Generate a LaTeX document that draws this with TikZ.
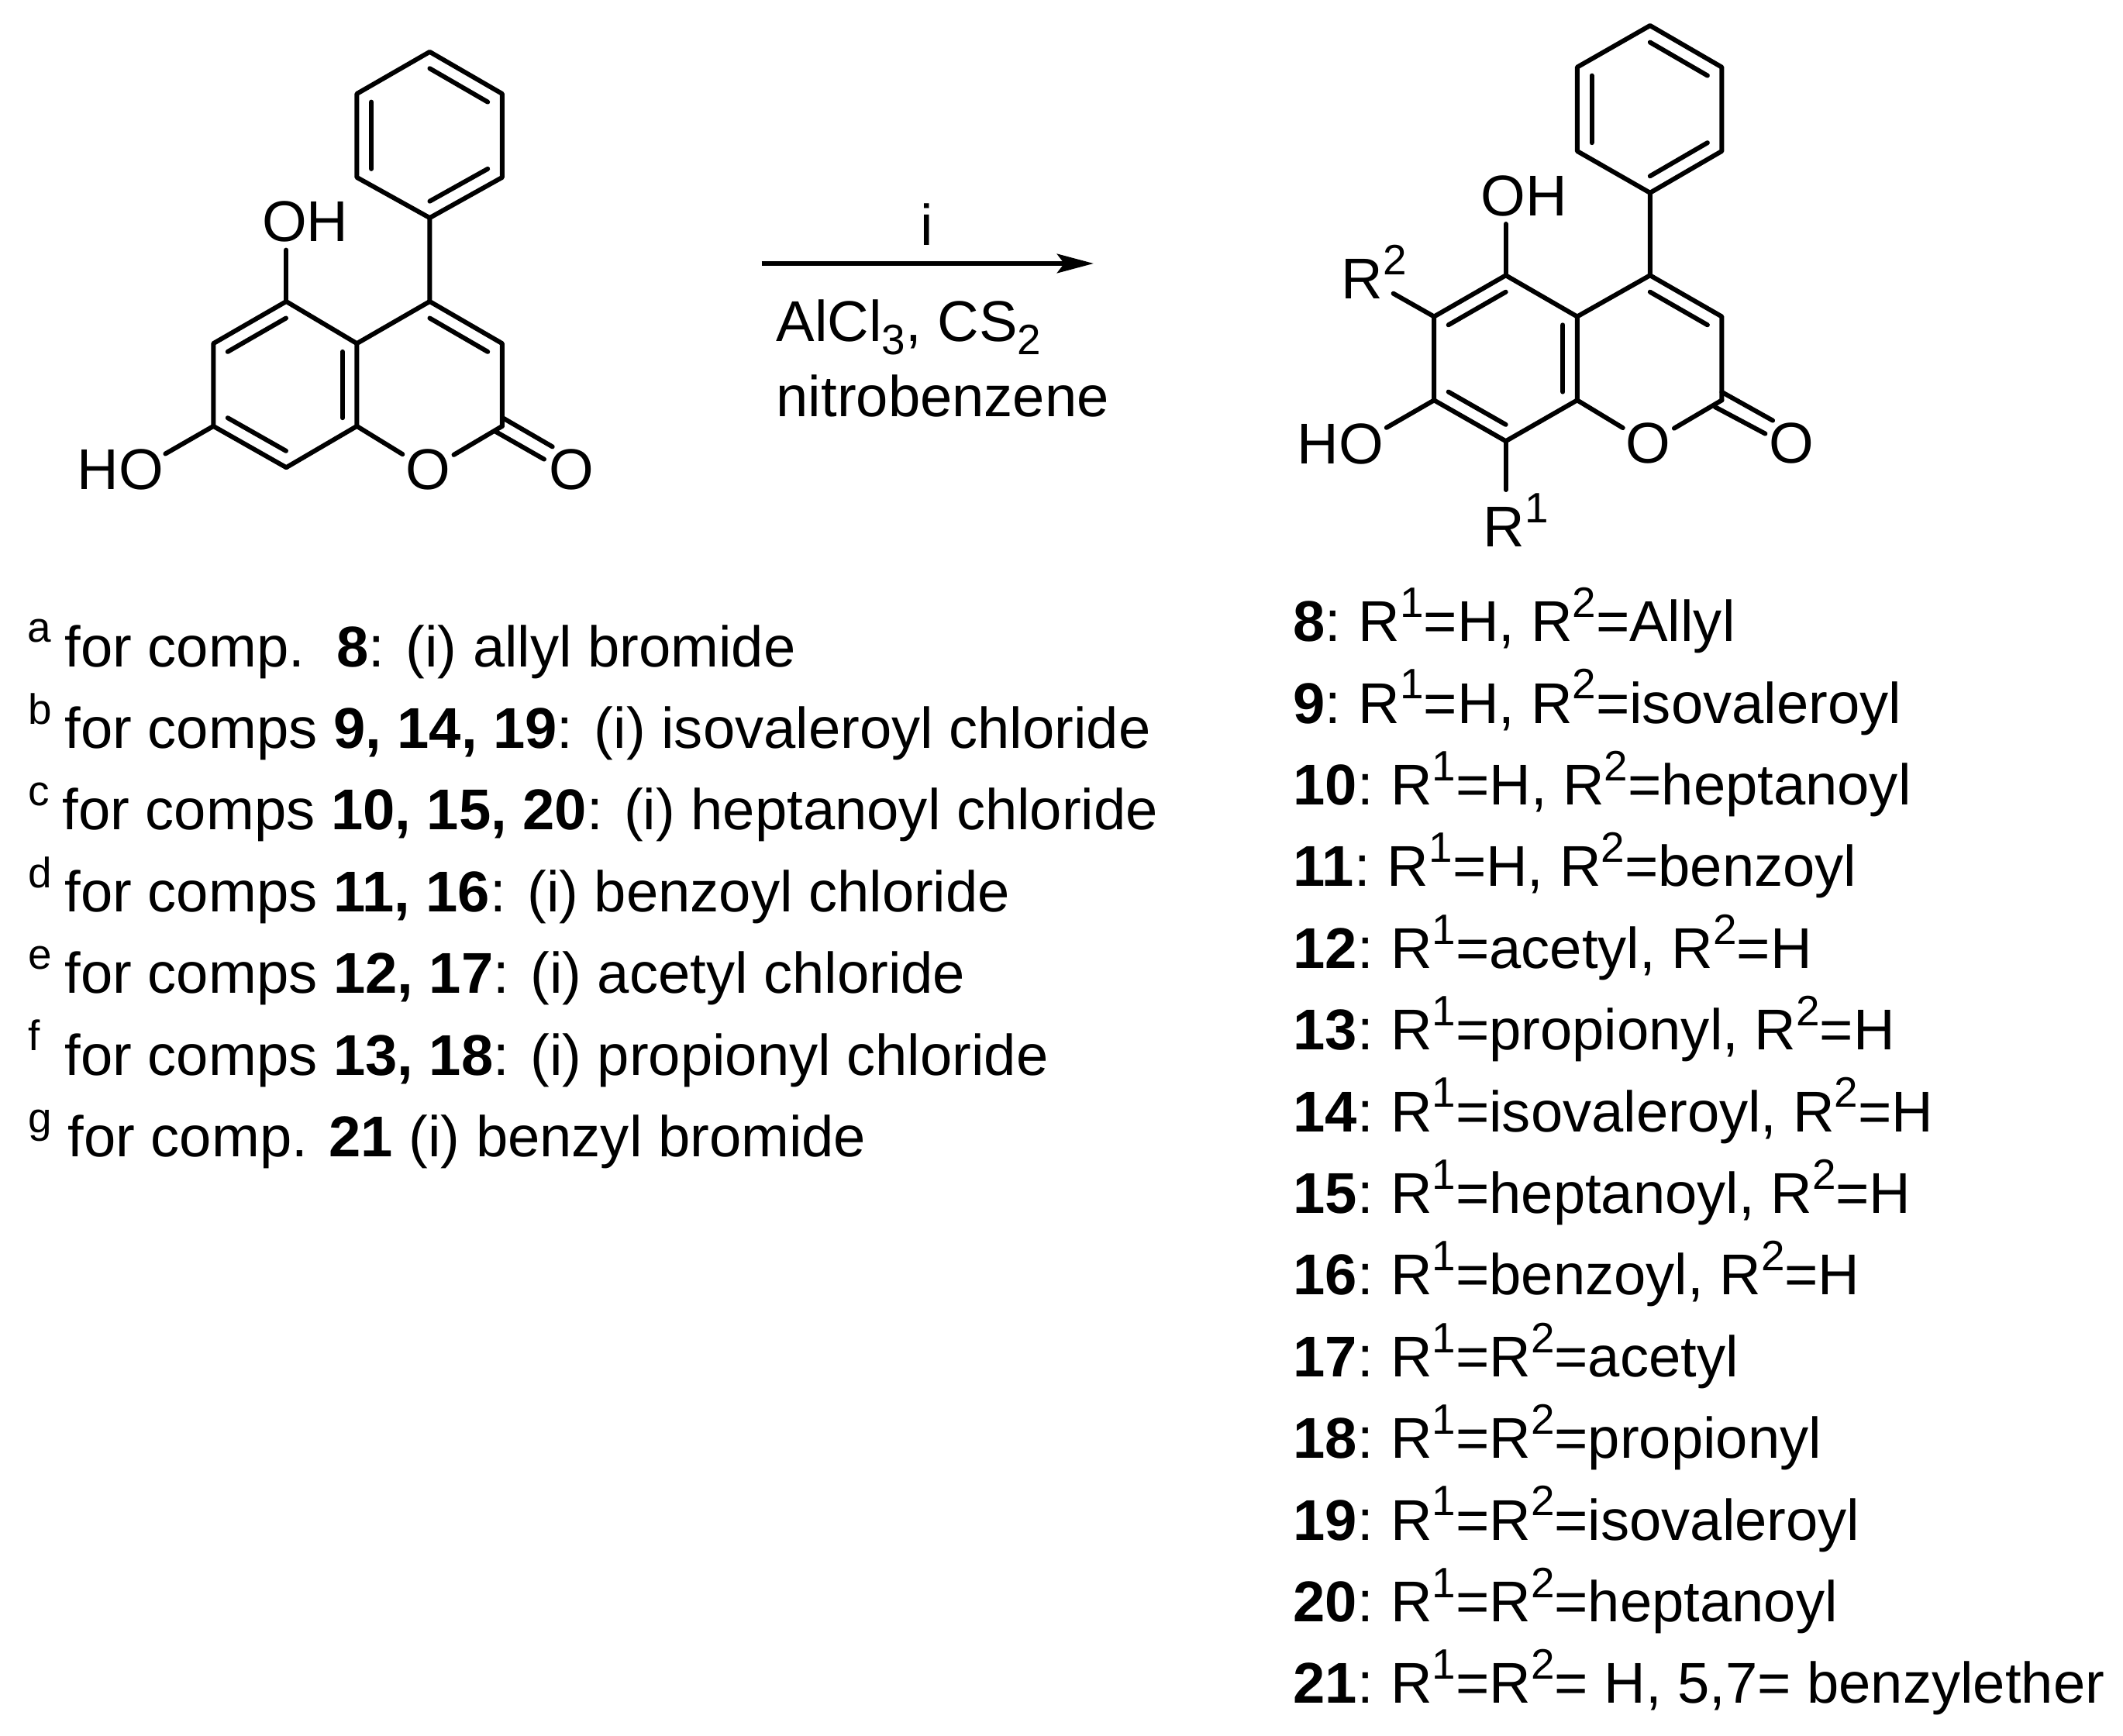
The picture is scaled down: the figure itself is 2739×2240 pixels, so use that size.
\documentclass[tikz,border=0pt]{standalone}
\usepackage{fontspec}
\setmainfont{Liberation Sans}
\usetikzlibrary{arrows.meta,calc}
\newcommand{\supnum}[1]{\raisebox{0.42em}{\fontsize{15.6}{15.6}\selectfont #1}}
\newcommand{\subnum}[1]{\raisebox{-0.22em}{\fontsize{15.6}{15.6}\selectfont #1}}
\tikzset{
  >=Stealth,
  every node/.append style={font=\fontsize{21.1}{24}\selectfont},
  bond/.style={line width=1.7pt, line cap=round, line join=round},
  atomlabel/.style={anchor=base, inner xsep=1pt, inner ysep=0pt},
  textline/.style={anchor=base west, inner sep=0pt},
  arrow/.style={-{Stealth[length=13.4pt,width=7pt,inset=2.6pt]}, line width=1.7pt}
}
\begin{document}
\begin{tikzpicture}[x=0.01cm, y=-0.01cm]
\useasboundingbox (0,0) rectangle (2739,2240);

% Starting material
\coordinate (aTop) at (554.4,66.9);
\coordinate (aUL) at (460.4,121);
\coordinate (aUR) at (647.9,121);
\coordinate (aLL) at (460.4,228.9);
\coordinate (aLR) at (647.9,228.9);
\coordinate (aBot) at (554.4,281.1);
\coordinate (aPh) at (554.4,174);
\coordinate (aC4) at (554.4,389);
\coordinate (aC4a) at (460.4,443.2);
\coordinate (aC3) at (647.9,443.2);
\coordinate (aC8a) at (460.4,549.9);
\coordinate (aC2) at (647.9,549.9);
\coordinate (aC5) at (369.3,389);
\coordinate (aC6) at (275.3,443.2);
\coordinate (aC7) at (275.3,549.9);
\coordinate (aC8) at (369.3,603.2);
\coordinate (aRingA) at (367.8,496.5);
\coordinate (aRingB) at (554.4,496.5);
\node[atomlabel] (aO1) at (552.4,632) {O};
\node[atomlabel] (aO2) at (737.5,632) {O};
\node[atomlabel] (aOH) at (393.7,312) {OH};
\node[atomlabel] (aHO) at (155.4,632) {HO};
\coordinate (aOHend) at (369.3,322.6);
\coordinate (aHOend) at (213.4,585.5);
\coordinate (aDblA1) at (647.9,538.8);
\coordinate (aDblA2) at (712.7,576.4);
\coordinate (aDblB1) at (639.6,557);
\coordinate (aDblB2) at (702,592.6);

\draw[bond] (aTop) -- (aUR) -- (aLR) -- (aBot) -- (aLL) -- (aUL) -- cycle;
\draw[bond] (aBot) -- (aC4) -- (aC3) -- (aC2);
\draw[bond] (aC4) -- (aC4a) -- (aC8a) -- (aC8) -- (aC7) -- (aC6) -- (aC5) -- (aC4a);
\draw[bond] (aC8a) -- (aO1);
\draw[bond] (aC2) -- (aO1);
\draw[bond] (aC5) -- (aOHend);
\draw[bond] (aC7) -- (aHOend);
\draw[bond] (aDblA1) -- (aDblA2);
\draw[bond] (aDblB1) -- (aDblB2);

% Product
\coordinate (bTop) at (2128.8,33);
\coordinate (bUL) at (2034.8,86.7);
\coordinate (bUR) at (2221.4,86.7);
\coordinate (bLL) at (2034.8,195);
\coordinate (bLR) at (2221.4,195);
\coordinate (bBot) at (2128.8,248.8);
\coordinate (bPh) at (2128.8,141);
\coordinate (bC4) at (2128.8,355.3);
\coordinate (bC4a) at (2034.8,408.5);
\coordinate (bC3) at (2221.4,408.5);
\coordinate (bC8a) at (2034.8,516.4);
\coordinate (bC2) at (2221.4,516.4);
\coordinate (bC5) at (1942.7,355.3);
\coordinate (bC6) at (1850.2,408.5);
\coordinate (bC7) at (1850.2,516.4);
\coordinate (bC8) at (1942.7,569.2);
\coordinate (bRingA) at (1942.5,462.5);
\coordinate (bRingB) at (2128.8,462.5);
\node[atomlabel] (bO1) at (2126.8,597.7) {O};
\node[atomlabel] (bO2) at (2311.4,597.7) {O};
\node[atomlabel] (bOH) at (1966.6,278.6) {OH};
\node[atomlabel] (bHO) at (1729.4,598.6) {HO};
\node[textline] (bR2) at (1730,385.6) {R\supnum{2}};
\node[textline] (bR1) at (1913,705.6) {R\supnum{1}};
\coordinate (bOHend) at (1942.7,289);
\coordinate (bHOend) at (1788.8,551.8);
\coordinate (bR2end) at (1797.6,378.7);
\coordinate (bR1end) at (1942.7,632);
\coordinate (bDblA1) at (2221.4,505.9);
\coordinate (bDblA2) at (2287.1,542.6);
\coordinate (bDblB1) at (2212.6,525.1);
\coordinate (bDblB2) at (2277.4,559.6);

\draw[bond] (bTop) -- (bUR) -- (bLR) -- (bBot) -- (bLL) -- (bUL) -- cycle;
\draw[bond] (bBot) -- (bC4) -- (bC3) -- (bC2);
\draw[bond] (bC4) -- (bC4a) -- (bC8a) -- (bC8) -- (bC7) -- (bC6) -- (bC5) -- (bC4a);
\draw[bond] (bC8a) -- (bO1);
\draw[bond] (bC2) -- (bO1);
\draw[bond] (bC5) -- (bOHend);
\draw[bond] (bC7) -- (bHOend);
\draw[bond] (bC6) -- (bR2end);
\draw[bond] (bC8) -- (bR1end);
\draw[bond] (bDblA1) -- (bDblA2);
\draw[bond] (bDblB1) -- (bDblB2);

% Inner lines of the double bonds
\foreach \p/\q/\c in {aTop/aUR/aPh, aUL/aLL/aPh, aLR/aBot/aPh, aC4/aC3/aRingB, aC5/aC6/aRingA,
    aC4a/aC8a/aRingA, aC7/aC8/aRingA, bTop/bUR/bPh, bUL/bLL/bPh, bLR/bBot/bPh, bC4/bC3/bRingB,
    bC5/bC6/bRingA, bC4a/bC8a/bRingA, bC7/bC8/bRingA}
  \draw[bond] ($(\p)!.2!(\c)$) -- ($(\q)!.2!(\c)$);

% Reaction arrow
\coordinate (arrowstart) at (982.7,340);
\coordinate (arrowend) at (1411,340);
\draw[arrow] (arrowstart) -- (arrowend);
\node[anchor=base, inner sep=0pt] (reagent) at (1196,317) {i};
\node[textline] (salt) at (1001,440.7) {AlCl\subnum{3}, CS\subnum{2}};
\node[textline] (solvent) at (1001,538) {nitrobenzene};

% Footnotes
\foreach \lett/\xlett/\xtext/\txt [count=\i from 0, evaluate=\i as \ypos using 860+105.4*\i] in {
    a/35/83/{for comp.\ \ \textbf{8}: (i) allyl bromide},
    b/36/83/{for comps \textbf{9, 14, 19}: (i) isovaleroyl chloride},
    c/36/80/{for comps \textbf{10, 15, 20}: (i) heptanoyl chloride},
    d/36/83/{for comps \textbf{11, 16}: (i) benzoyl chloride},
    e/36/83/{for comps \textbf{12, 17}: (i) acetyl chloride},
    f/36/83/{for comps \textbf{13, 18}: (i) propionyl chloride},
    g/36/87/{for comp. \textbf{21} (i) benzyl bromide}} {
  \node[textline] (note\lett) at (\xlett,\ypos) {\supnum{\lett}};
  \node[textline] (notetext\lett) at (\xtext,\ypos) {\txt};
}

% Compound list
\foreach \cmp/\txt [count=\i from 0, evaluate=\i as \ypos using 827.6+105.4*\i] in {
    8/{R\supnum{1}=H, R\supnum{2}=Allyl},
    9/{R\supnum{1}=H, R\supnum{2}=isovaleroyl},
    10/{R\supnum{1}=H, R\supnum{2}=heptanoyl},
    11/{R\supnum{1}=H, R\supnum{2}=benzoyl},
    12/{R\supnum{1}=acetyl, R\supnum{2}=H},
    13/{R\supnum{1}=propionyl, R\supnum{2}=H},
    14/{R\supnum{1}=isovaleroyl, R\supnum{2}=H},
    15/{R\supnum{1}=heptanoyl, R\supnum{2}=H},
    16/{R\supnum{1}=benzoyl, R\supnum{2}=H},
    17/{R\supnum{1}=R\supnum{2}=acetyl},
    18/{R\supnum{1}=R\supnum{2}=propionyl},
    19/{R\supnum{1}=R\supnum{2}=isovaleroyl},
    20/{R\supnum{1}=R\supnum{2}=heptanoyl},
    21/{R\supnum{1}=R\supnum{2}= H, 5,7= benzylether}} {
  \node[textline] (item\cmp) at (1668,\ypos) {\textbf{\cmp}:\hspace{-1.5pt} \txt};
}
\end{tikzpicture}
\end{document}
